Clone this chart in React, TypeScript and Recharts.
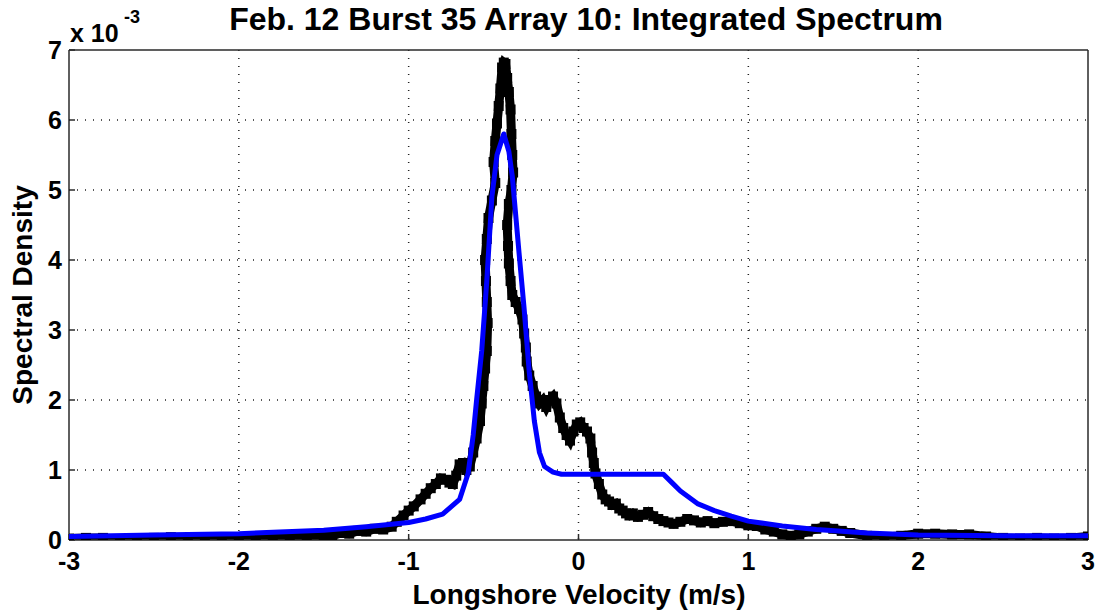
import React from 'react';
import { LineChart, Line, XAxis, YAxis, CartesianGrid, Customized } from 'recharts';

const xTicks = [-3, -2, -1, 0, 1, 2, 3];
const yTicks = [0, 1, 2, 3, 4, 5, 6, 7];

const titleText = 'Feb. 12 Burst 35 Array 10: Integrated Spectrum';
const xLabel = 'Longshore Velocity (m/s)';
const yLabel = 'Spectral Density';

// measured spectrum (x: velocity m/s, y: density ×1e-3)
const measuredX = [
  -3.0, -2.9, -2.8, -2.7, -2.6, -2.5, -2.4, -2.3, -2.2, -2.1, -2.0, -1.9, -1.8, -1.7, -1.6, -1.5, -1.45, -1.4, -1.35, -1.3,
  -1.25, -1.2, -1.15, -1.1, -1.07, -1.03, -1.0, -0.97, -0.93, -0.9, -0.87, -0.84, -0.81, -0.78, -0.76, -0.74, -0.72, -0.7,
  -0.68, -0.66, -0.64, -0.62, -0.6, -0.58, -0.57, -0.56, -0.55, -0.54, -0.535, -0.54, -0.545, -0.55, -0.54, -0.53, -0.51,
  -0.49, -0.5, -0.49, -0.48, -0.47, -0.46, -0.45, -0.44, -0.43, -0.42, -0.41, -0.4, -0.395, -0.39, -0.385, -0.395, -0.41,
  -0.42, -0.415, -0.41, -0.4, -0.39, -0.37, -0.35, -0.33, -0.32, -0.31, -0.305, -0.29, -0.27, -0.25, -0.23, -0.21, -0.19,
  -0.17, -0.15, -0.13, -0.11, -0.09, -0.07, -0.05, -0.03, -0.01, 0.01, 0.03, 0.05, 0.07, 0.08, 0.09, 0.1, 0.12, 0.14, 0.16,
  0.18, 0.2, 0.22, 0.24, 0.26, 0.28, 0.3, 0.32, 0.35, 0.38, 0.41, 0.44, 0.47, 0.5, 0.53, 0.56, 0.6, 0.64, 0.68, 0.72, 0.76,
  0.8, 0.85, 0.9, 0.95, 1.0, 1.05, 1.1, 1.15, 1.2, 1.25, 1.3, 1.35, 1.4, 1.45, 1.5, 1.55, 1.6, 1.7, 1.8, 1.9, 2.0, 2.1, 2.2,
  2.3, 2.4, 2.5, 2.6, 2.7, 2.8, 2.9, 3.0,
];
const measuredY = [
  0.02, 0.03, 0.03, 0.01, 0.02, 0.03, 0.04, 0.03, 0.02, 0.03, 0.04, 0.04, 0.03, 0.05, 0.05, 0.07, 0.06, 0.1, 0.09, 0.13,
  0.12, 0.16, 0.15, 0.19, 0.26, 0.35, 0.42, 0.48, 0.58, 0.66, 0.74, 0.8, 0.88, 0.86, 0.82, 0.8, 0.92, 1.08,
  1.1, 1.0, 1.05, 1.25, 1.45, 1.7, 1.95, 2.2, 2.45, 2.7, 3.1, 3.4, 3.7, 4.0, 4.3, 4.6, 4.85,
  5.1, 5.4, 5.7, 5.95, 6.2, 6.45, 6.75, 6.82, 6.8, 6.6, 6.4, 6.15, 5.8, 5.5, 5.25, 5.0, 4.8,
  4.5, 4.2, 3.95, 3.7, 3.5, 3.4, 3.3, 3.15, 2.95, 2.75, 2.55, 2.35, 2.2, 2.05, 1.95, 2.0, 1.9,
  2.0, 2.05, 1.95, 1.75, 1.6, 1.5, 1.42, 1.55, 1.65, 1.68, 1.6, 1.55, 1.45, 1.25, 1.1, 0.95, 0.8, 0.65, 0.58,
  0.55, 0.5, 0.52, 0.45, 0.42, 0.38, 0.35, 0.38, 0.33, 0.36, 0.4, 0.34, 0.3, 0.27, 0.25, 0.23, 0.26, 0.3, 0.28, 0.25, 0.27,
  0.24, 0.26, 0.27, 0.24, 0.21, 0.2, 0.15, 0.12, 0.08, 0.06, 0.08, 0.12, 0.16, 0.19, 0.16, 0.13, 0.1, 0.06, 0.04, 0.06, 0.09, 0.09, 0.08,
  0.08, 0.05, 0.03, 0.02, 0.03, 0.02, 0.03, 0.05,
];

// model fit (blue)
const modelX = [
  -3.0, -2.5, -2.0, -1.5, -1.25, -1.0, -0.9, -0.8, -0.7, -0.65, -0.62, -0.6, -0.57, -0.54, -0.51, -0.48, -0.44, -0.41,
  -0.39, -0.35, -0.32, -0.29, -0.26, -0.23, -0.2, -0.15, -0.1, 0.5, 0.55, 0.6, 0.7, 0.8, 0.9, 1.0, 1.2, 1.4, 1.7, 2.0, 2.5, 3.0,
];
const modelY = [
  0.05, 0.07, 0.09, 0.14, 0.19, 0.25, 0.3, 0.37, 0.58, 0.95, 1.5, 2.0, 2.7, 3.7, 4.9, 5.5, 5.8, 5.55,
  5.2, 4.1, 3.3, 2.4, 1.7, 1.25, 1.05, 0.97, 0.94, 0.94, 0.82, 0.7, 0.52, 0.42, 0.34, 0.27, 0.2, 0.15, 0.1, 0.07, 0.06, 0.06,
];

const measuredData = measuredX.map((x, i) => ({ x, y: measuredY[i] }));
const modelData = modelX.map((x, i) => ({ x, y: modelY[i] }));

const FONT = '"Liberation Sans", Arial, Helvetica, sans-serif';

const SquareDot = (props: any) => {
  const { cx, cy, index } = props;
  if (cx == null || cy == null) return <g key={`d${index}`} />;
  return <rect key={`d${index}`} x={cx - 5} y={cy - 5} width={10} height={10} fill="#000" />;
};

const Texts = () => (
  <g fontFamily={FONT} fontWeight="bold" fill="#000">
    <text x={586} y={30} fontSize={32} textAnchor="middle">{titleText}</text>
    <text x={70} y={42} fontSize={25}>x 10</text>
    <text x={124} y={23} fontSize={18}>-3</text>
    <text x={579} y={604} fontSize={28} textAnchor="middle">{xLabel}</text>
    <text x={32} y={295} fontSize={28} textAnchor="middle" transform="rotate(-90 32 295)">{yLabel}</text>
  </g>
);

const tickStyle = { fill: '#000', fontSize: 25, fontWeight: 'bold', fontFamily: FONT };

export default function App() {
  return (
    <div style={{ position: 'absolute', left: 0, top: 0, width: 1097, height: 613, background: '#fff' }}>
      <LineChart
        width={1097}
        height={613}
        margin={{ top: 49, right: 8, bottom: 72, left: 68 }}
        style={{ fontFamily: FONT }}
      >
        <CartesianGrid
          stroke="#222"
          strokeDasharray="1 7"
          strokeWidth={1.5}
          horizontalValues={[1, 2, 3, 4, 5, 6]}
          verticalValues={[-2, -1, 0, 1, 2]}
        />
        <XAxis
          type="number"
          dataKey="x"
          domain={[-3, 3]}
          ticks={xTicks}
          height={1}
          allowDataOverflow
          tickSize={-6}
          tickMargin={18}
          stroke="#2a2a2a"
          strokeWidth={1.5}
          tick={tickStyle}
        />
        <XAxis
          xAxisId="t"
          orientation="top"
          type="number"
          dataKey="x"
          domain={[-3, 3]}
          ticks={xTicks}
          height={1}
          allowDataOverflow
          tickSize={-6}
          tick={false}
          stroke="#2a2a2a"
          strokeWidth={1.5}
        />
        <YAxis
          type="number"
          domain={[0, 7]}
          ticks={yTicks}
          width={1}
          allowDataOverflow
          tickSize={-6}
          tickMargin={13}
          stroke="#2a2a2a"
          strokeWidth={1.5}
          tick={tickStyle}
        />
        <YAxis
          yAxisId="r"
          orientation="right"
          type="number"
          domain={[0, 7]}
          ticks={yTicks}
          width={1}
          allowDataOverflow
          tickSize={-6}
          tick={false}
          stroke="#2a2a2a"
          strokeWidth={1.5}
        />
        <Line
          data={measuredData}
          dataKey="y"
          type="linear"
          stroke="#000"
          strokeWidth={9}
          dot={SquareDot}
          activeDot={false}
          isAnimationActive={false}
        />
        <Line
          data={modelData}
          dataKey="y"
          type="linear"
          stroke="#0000ff"
          strokeWidth={5}
          strokeLinejoin="round"
          dot={false}
          activeDot={false}
          isAnimationActive={false}
          {...({ zIndex: 900 } as any)}
        />
        <Customized component={Texts} />
      </LineChart>
    </div>
  );
}
